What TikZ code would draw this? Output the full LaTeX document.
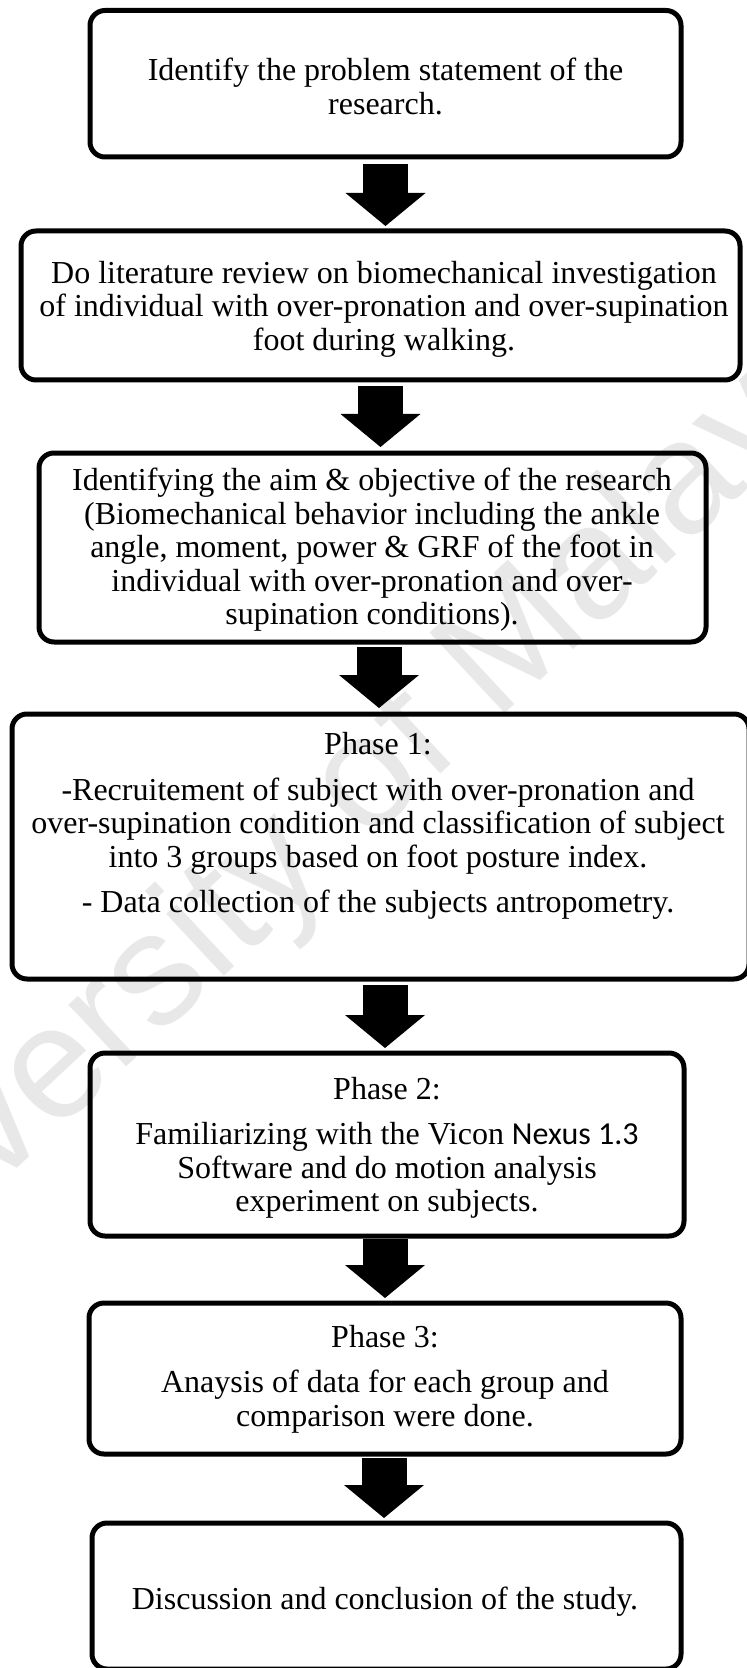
\documentclass[tikz,border=0pt]{standalone}
\usepackage{fontspec}
\setmainfont{Liberation Serif}
\newfontfamily\wmfont{Liberation Sans}
\newfontfamily\nexusfont{Carlito}
\usetikzlibrary{arrows.meta,calc}
\begin{document}
\begin{tikzpicture}[x=0.5pt,y=-0.5pt,
  flowbox/.style={draw, line width=2.5pt, rounded corners=7.5pt, inner sep=0pt, outer sep=0pt},
  flowtext/.style={align=center, inner sep=0pt, font=\fontsize{16}{16.7}\selectfont},
  blockarr/.style={line width=22.5pt, -{Triangle[width=40pt,length=16.5pt,line width=0pt]}},
  watermark/.style={text=black!9, font=\wmfont\fontsize{80}{84}\selectfont, rotate=43}
]
\useasboundingbox (0,0) rectangle (746,1668);
\fill[white] (0,0) rectangle (746,1668);
\node[watermark] (wm) at (318,832) {University of Malaya};

% boxes
\node[flowbox, minimum width=295.5pt, minimum height=73.25pt] (b1) at (385.5,83.75) {};
\node[flowbox, minimum width=359.5pt, minimum height=74.5pt] (b2) at (380.5,305.5) {};
\node[flowbox, minimum width=333.5pt, minimum height=94.5pt] (b3) at (372.5,547.5) {};
\node[flowbox, minimum width=368.5pt, minimum height=132.5pt] (b4) at (380.5,846.5) {};
\node[flowbox, minimum width=297pt, minimum height=91.5pt] (b5) at (387,1144.5) {};
\node[flowbox, minimum width=296pt, minimum height=75.5pt] (b6) at (385,1378.5) {};
\node[flowbox, minimum width=294.5pt, minimum height=73pt] (b7) at (386.5,1596) {};

% texts
\node[flowtext] (t1) at (385.5,91) {\strut Identify the problem statement of the\\\strut research.};
\node[flowtext] (t2) at (384,310) {\strut Do literature review on biomechanical investigation\\\strut of individual with over-pronation and over-supination\\\strut foot during walking.};
\node[flowtext] (t3) at (372,551) {\strut Identifying the aim \& objective of the research\\\strut (Biomechanical behavior including the ankle\\\strut angle, moment, power \& GRF of the foot in\\\strut individual with over-pronation and over-\\\strut supination conditions).};
\node[flowtext] (t4) at (378,827) {\strut Phase 1:\\[6pt]\strut -Recruitement of subject with over-pronation and\\\strut over-supination condition and classification of subject\\\strut into 3 groups based on foot posture index.\\[6pt]\strut - Data collection of the subjects antropometry.};
\node[flowtext] (t5) at (387,1149) {\strut Phase 2:\\[6pt]\strut Familiarizing with the Vicon {\nexusfont Nexus 1.3}\\\strut Software and do motion analysis\\\strut experiment on subjects.};
\node[flowtext] (t6) at (385,1380) {\strut Phase 3:\\[6pt]\strut Anaysis of data for each group and\\\strut comparison were done.};
\node[flowtext] (t7) at (385,1603) {\strut Discussion and conclusion of the study.};

% block arrows
\draw[blockarr, shorten <=3.5pt, shorten >=2.5pt] (b1.south) -- (b1.south |- b2.north);
\draw[blockarr, shorten <=3pt, shorten >=3pt] (b2.south) -- (b2.south |- b3.north);
\draw[blockarr, shorten <=2.5pt, shorten >=3pt] ($(b3.south)+(3.25pt,0)$) -- ($(b3.south |- b4.north)+(3.25pt,0)$);
\draw[blockarr, shorten <=3pt, shorten >=2.5pt] ($(b4.south)+(2.25pt,0)$) -- ($(b4.south |- b5.north)+(2.25pt,0)$);
\draw[blockarr, shorten <=1.5pt, shorten >=2.5pt] ($(b5.south)+(-1pt,0)$) -- ($(b5.south |- b6.north)+(-1pt,0)$);
\draw[blockarr, shorten <=2pt, shorten >=2.5pt] ($(b6.south)+(-0.5pt,0)$) -- ($(b6.south |- b7.north)+(-0.5pt,0)$);
\end{tikzpicture}
\end{document}
